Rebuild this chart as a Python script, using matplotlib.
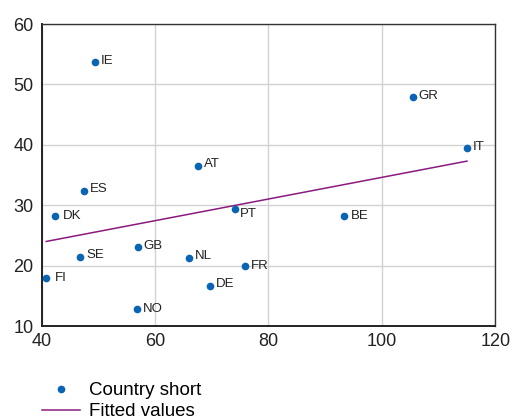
"""
Scatter of country indicator vs. second indicator, with fitted OLS line.
"""
import matplotlib
matplotlib.use("Agg")
import matplotlib.pyplot as plt
import numpy as np

plt.rcParams["font.family"] = ["Liberation Sans", "DejaVu Sans"]

# ---------------------------------------------------------------------------
# Data
# ---------------------------------------------------------------------------
countries = ["IE", "GR", "IT", "AT", "ES", "DK", "PT", "BE",
             "GB", "SE", "NL", "FR", "FI", "DE", "NO"]
x_vals = [49.4, 105.4, 115.0, 67.6, 47.5, 42.3, 74.1, 93.4,
          56.9, 46.7, 66.0, 75.9, 40.8, 69.6, 56.8]
y_vals = [53.7, 47.9, 39.4, 36.5, 32.4, 28.2, 29.4, 28.2,
          23.0, 21.5, 21.3, 19.9, 17.9, 16.7, 12.8]

fit_x = [40.8, 115.0]
fit_y = [24.0, 37.3]

x_ticks = [40, 60, 80, 100, 120]
y_ticks = [10, 20, 30, 40, 50, 60]

# label offsets in pixels (dx, dy); default is used for the rest
label_offsets = {"DK": (8, 0), "SE": (7, 1.5), "FI": (9, 0),
                 "PT": (5, -5), "FR": (5.5, 0), "NO": (6, 0), "BE": (6, 0.5)}

DOT = "#0a64b4"
FIT = "#8b1a80"

fig = plt.figure(figsize=(5.12, 4.16), dpi=100)
ax = fig.add_axes([0.0814, 0.2163, 0.886, 0.726])

ax.grid(True, color="#d2d2d2", linewidth=1.0)
ax.set_axisbelow(True)

ax.plot(x_vals, y_vals, marker="o", linestyle="none", markersize=4.5,
        color=DOT, label="Country short", zorder=3)
ax.plot(fit_x, fit_y, color=FIT, linewidth=1.1, label="Fitted values", zorder=2)

for c, x, y in zip(countries, x_vals, y_vals):
    dx, dy = label_offsets.get(c, (6, 1.5))
    ax.annotate(c, (x, y), xytext=(dx, dy), textcoords="offset pixels",
                fontsize=9.5, color="#222222", va="center", ha="left")

ax.set_xlim(40, 120)
ax.set_ylim(10, 60)
ax.set_xticks(x_ticks)
ax.set_yticks(y_ticks)
ax.tick_params(length=0, labelsize=13, colors="#222222")
ax.tick_params(axis="x", pad=5)
ax.tick_params(axis="y", pad=6)

for side in ["top", "right"]:
    ax.spines[side].set_color("#333333")
    ax.spines[side].set_linewidth(1.0)
for side in ["left", "bottom"]:
    ax.spines[side].set_color("#222222")
    ax.spines[side].set_linewidth(1.4)

fig.legend(loc="upper left", bbox_to_anchor=(42 / 512, 1 - 382 / 416),
           frameon=False, fontsize=13.5, handlelength=2.0, handletextpad=0.5,
           labelspacing=0.22, borderpad=0, borderaxespad=0, numpoints=1)

fig.savefig("out.png", dpi=100)
